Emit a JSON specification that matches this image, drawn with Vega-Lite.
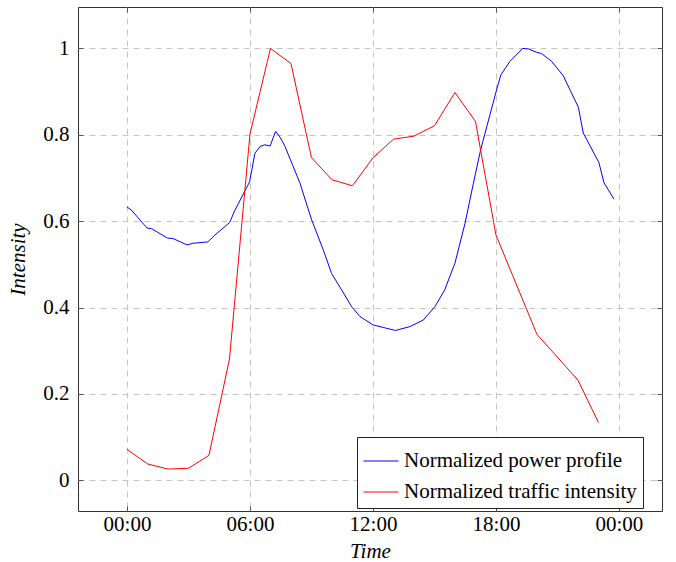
{
  "$schema": "https://vega.github.io/schema/vega-lite/v6.json",
  "width": 584,
  "height": 504,
  "autosize": {"type": "none"},
  "padding": {"left": 78, "top": 7, "right": 14, "bottom": 51},
  "background": "white",
  "config": {
    "view": {"stroke": "#333", "strokeWidth": 1},
    "font": "Liberation Serif",
    "axis": {
      "labelFont": "Liberation Serif",
      "titleFont": "Liberation Serif",
      "labelFontSize": 21,
      "titleFontSize": 21,
      "labelColor": "black",
      "titleColor": "black",
      "titleFontWeight": "normal",
      "titleFontStyle": "italic",
      "domain": false,
      "tickColor": "#555",
      "tickSize": -5,
      "gridColor": "#c4c4c4",
      "gridDash": [6, 5],
      "gridWidth": 1
    },
    "legend": {
      "labelFont": "Liberation Serif",
      "labelFontSize": 21,
      "labelColor": "black",
      "labelLimit": 0
    }
  },
  "data": {
    "values": [
      {"series": "Normalized power profile", "t": 0, "v": 0.633},
      {"series": "Normalized power profile", "t": 0.21, "v": 0.626},
      {"series": "Normalized power profile", "t": 0.98, "v": 0.584},
      {"series": "Normalized power profile", "t": 1.19, "v": 0.583},
      {"series": "Normalized power profile", "t": 1.97, "v": 0.561},
      {"series": "Normalized power profile", "t": 2.24, "v": 0.56},
      {"series": "Normalized power profile", "t": 2.93, "v": 0.545},
      {"series": "Normalized power profile", "t": 3.22, "v": 0.549},
      {"series": "Normalized power profile", "t": 3.95, "v": 0.552},
      {"series": "Normalized power profile", "t": 4.24, "v": 0.566},
      {"series": "Normalized power profile", "t": 5.01, "v": 0.597},
      {"series": "Normalized power profile", "t": 5.25, "v": 0.624},
      {"series": "Normalized power profile", "t": 5.98, "v": 0.691},
      {"series": "Normalized power profile", "t": 6.24, "v": 0.757},
      {"series": "Normalized power profile", "t": 6.49, "v": 0.773},
      {"series": "Normalized power profile", "t": 6.73, "v": 0.777},
      {"series": "Normalized power profile", "t": 6.98, "v": 0.774},
      {"series": "Normalized power profile", "t": 7.25, "v": 0.808},
      {"series": "Normalized power profile", "t": 7.46, "v": 0.795},
      {"series": "Normalized power profile", "t": 7.71, "v": 0.773},
      {"series": "Normalized power profile", "t": 8.44, "v": 0.688},
      {"series": "Normalized power profile", "t": 8.7, "v": 0.649},
      {"series": "Normalized power profile", "t": 9.01, "v": 0.603},
      {"series": "Normalized power profile", "t": 9.58, "v": 0.533},
      {"series": "Normalized power profile", "t": 9.98, "v": 0.479},
      {"series": "Normalized power profile", "t": 10.47, "v": 0.441},
      {"series": "Normalized power profile", "t": 10.96, "v": 0.402},
      {"series": "Normalized power profile", "t": 11.37, "v": 0.379},
      {"series": "Normalized power profile", "t": 12.0, "v": 0.36},
      {"series": "Normalized power profile", "t": 12.5, "v": 0.354},
      {"series": "Normalized power profile", "t": 13.1, "v": 0.347},
      {"series": "Normalized power profile", "t": 13.8, "v": 0.356},
      {"series": "Normalized power profile", "t": 14.45, "v": 0.371},
      {"series": "Normalized power profile", "t": 15.02, "v": 0.402},
      {"series": "Normalized power profile", "t": 15.5, "v": 0.441},
      {"series": "Normalized power profile", "t": 16.0, "v": 0.503},
      {"series": "Normalized power profile", "t": 16.49, "v": 0.595},
      {"series": "Normalized power profile", "t": 16.9, "v": 0.688},
      {"series": "Normalized power profile", "t": 17.25, "v": 0.765},
      {"series": "Normalized power profile", "t": 18.03, "v": 0.904},
      {"series": "Normalized power profile", "t": 18.24, "v": 0.939},
      {"series": "Normalized power profile", "t": 18.68, "v": 0.97},
      {"series": "Normalized power profile", "t": 19.3, "v": 1.0},
      {"series": "Normalized power profile", "t": 19.58, "v": 0.999},
      {"series": "Normalized power profile", "t": 19.99, "v": 0.991},
      {"series": "Normalized power profile", "t": 20.23, "v": 0.988},
      {"series": "Normalized power profile", "t": 20.72, "v": 0.97},
      {"series": "Normalized power profile", "t": 21.28, "v": 0.937},
      {"series": "Normalized power profile", "t": 22.02, "v": 0.864},
      {"series": "Normalized power profile", "t": 22.26, "v": 0.804},
      {"series": "Normalized power profile", "t": 23.02, "v": 0.736},
      {"series": "Normalized power profile", "t": 23.27, "v": 0.689},
      {"series": "Normalized power profile", "t": 23.76, "v": 0.651},
      {"series": "Normalized traffic intensity", "t": 0, "v": 0.072},
      {"series": "Normalized traffic intensity", "t": 1, "v": 0.038},
      {"series": "Normalized traffic intensity", "t": 2, "v": 0.026},
      {"series": "Normalized traffic intensity", "t": 3, "v": 0.028},
      {"series": "Normalized traffic intensity", "t": 4, "v": 0.058},
      {"series": "Normalized traffic intensity", "t": 5, "v": 0.281},
      {"series": "Normalized traffic intensity", "t": 6, "v": 0.802},
      {"series": "Normalized traffic intensity", "t": 7, "v": 1.0},
      {"series": "Normalized traffic intensity", "t": 8, "v": 0.965},
      {"series": "Normalized traffic intensity", "t": 9, "v": 0.747},
      {"series": "Normalized traffic intensity", "t": 10, "v": 0.696},
      {"series": "Normalized traffic intensity", "t": 11, "v": 0.682},
      {"series": "Normalized traffic intensity", "t": 12, "v": 0.747},
      {"series": "Normalized traffic intensity", "t": 13, "v": 0.79},
      {"series": "Normalized traffic intensity", "t": 14, "v": 0.797},
      {"series": "Normalized traffic intensity", "t": 15, "v": 0.821},
      {"series": "Normalized traffic intensity", "t": 16, "v": 0.898},
      {"series": "Normalized traffic intensity", "t": 17, "v": 0.831},
      {"series": "Normalized traffic intensity", "t": 18, "v": 0.568},
      {"series": "Normalized traffic intensity", "t": 20, "v": 0.338},
      {"series": "Normalized traffic intensity", "t": 22, "v": 0.232},
      {"series": "Normalized traffic intensity", "t": 23, "v": 0.134}
    ]
  },
  "layer": [
    {
      "mark": {"type": "line", "strokeWidth": 1, "interpolate": "linear"},
      "encoding": {
        "x": {
          "field": "t",
          "type": "quantitative",
          "scale": {"domain": [-2.39, 26.1], "nice": false, "zero": false},
          "axis": {
            "orient": "bottom",
            "title": "Time",
            "values": [0, 6, 12, 18, 24],
            "labelExpr": "datum.value == 24 ? '00:00' : (datum.value < 10 ? '0' + datum.value : '' + datum.value) + ':00'",
            "labelPadding": 7,
            "titlePadding": 6,
            "grid": true
          }
        },
        "y": {
          "field": "v",
          "type": "quantitative",
          "scale": {"domain": [-0.071, 1.096], "nice": false, "zero": false},
          "axis": {
            "orient": "left",
            "title": "Intensity",
            "values": [0, 0.2, 0.4, 0.6, 0.8, 1],
            "format": "~g",
            "labelPadding": 14,
            "titlePadding": 14,
            "grid": true
          }
        },
        "color": {
          "field": "series",
          "type": "nominal",
          "scale": {
            "domain": ["Normalized power profile", "Normalized traffic intensity"],
            "range": ["#0000ff", "#ff0000"]
          },
          "legend": {
            "title": null,
            "orient": "none",
            "legendX": 279,
            "legendY": 430,
            "symbolType": "stroke",
            "symbolSize": 1225,
            "symbolStrokeWidth": 1,
            "labelOffset": 5,
            "labelLimit": 0,
            "rowPadding": 3,
            "padding": 6,
            "strokeColor": "#222",
            "fillColor": "white",
            "cornerRadius": 0
          }
        }
      }
    },
    {
      "mark": {"type": "line", "opacity": 0},
      "encoding": {
        "x": {
          "field": "t",
          "type": "quantitative",
          "scale": {"domain": [-2.39, 26.1], "nice": false, "zero": false},
          "axis": {"orient": "top", "title": null, "labels": false, "grid": false, "values": [0, 6, 12, 18, 24]}
        },
        "y": {
          "field": "v",
          "type": "quantitative",
          "scale": {"domain": [-0.071, 1.096], "nice": false, "zero": false},
          "axis": {"orient": "right", "title": null, "labels": false, "grid": false, "values": [0, 0.2, 0.4, 0.6, 0.8, 1]}
        },
        "detail": {"field": "series"}
      }
    }
  ],
  "resolve": {"axis": {"x": "independent", "y": "independent"}}
}
